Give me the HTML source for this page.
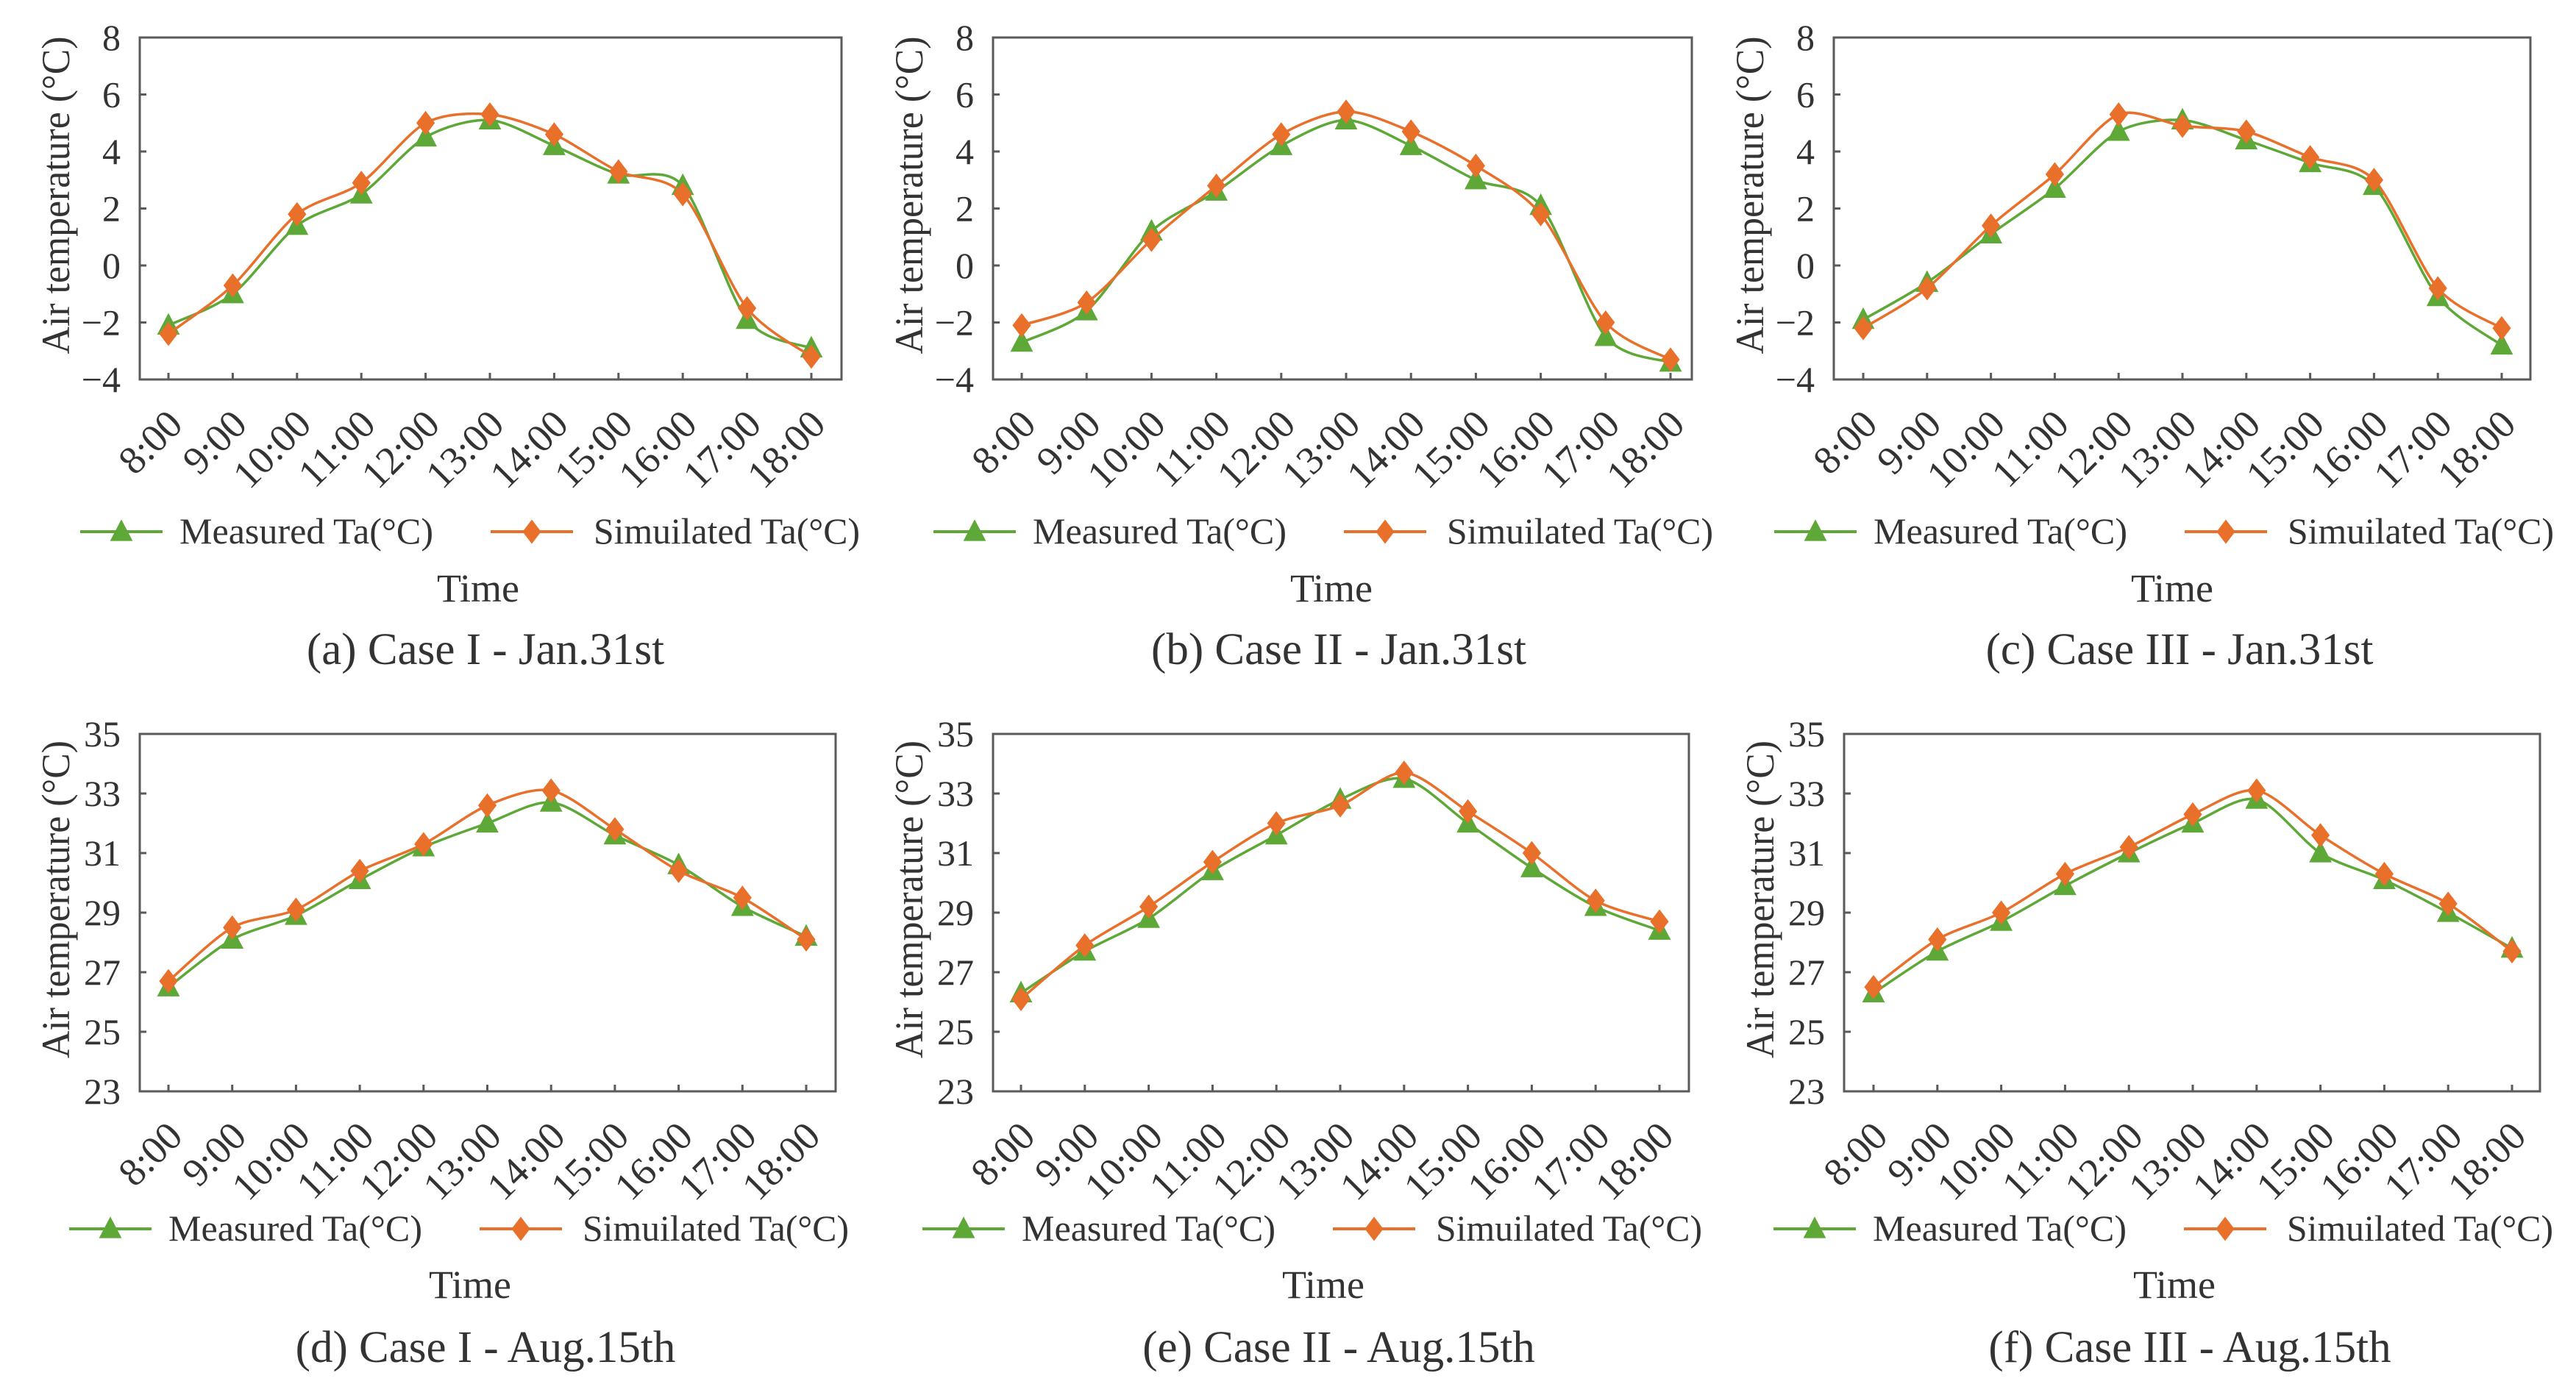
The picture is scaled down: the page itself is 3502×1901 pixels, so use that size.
<!DOCTYPE html>
<html><head><meta charset="utf-8"><title>Air temperature comparison</title>
<style>
html,body{margin:0;padding:0;background:#fff;}
svg{display:block;}
text{font-family:"Liberation Serif",serif;fill:#333;}
</style></head>
<body>
<svg id="fig" width="3502" height="1901" viewBox="0 0 3502 1901" xmlns="http://www.w3.org/2000/svg"></svg>
<script>
// ---- data ----
const categories = ["8:00","9:00","10:00","11:00","12:00","13:00","14:00","15:00","16:00","17:00","18:00"];
const janTicks = [-4,-2,0,2,4,6,8];
const augTicks = [23,25,27,29,31,33,35];
const measuredA = [-2.1,-1.0,1.4,2.5,4.5,5.1,4.2,3.2,2.8,-1.9,-2.9];
const simulatedA = [-2.4,-0.7,1.8,2.9,5.0,5.3,4.6,3.3,2.5,-1.5,-3.2];
const measuredB = [-2.7,-1.6,1.2,2.6,4.2,5.1,4.2,3.0,2.1,-2.5,-3.4];
const simulatedB = [-2.1,-1.3,0.9,2.8,4.6,5.4,4.7,3.5,1.8,-2.0,-3.3];
const measuredC = [-1.9,-0.6,1.1,2.7,4.7,5.1,4.4,3.6,2.8,-1.1,-2.8];
const simulatedC = [-2.2,-0.8,1.4,3.2,5.3,4.9,4.7,3.8,3.0,-0.8,-2.2];
const measuredD = [26.5,28.1,28.9,30.1,31.2,32.0,32.7,31.6,30.6,29.2,28.2];
const simulatedD = [26.7,28.5,29.1,30.4,31.3,32.6,33.1,31.8,30.4,29.5,28.1];
const measuredE = [26.3,27.7,28.8,30.4,31.6,32.8,33.5,32.0,30.5,29.2,28.4];
const simulatedE = [26.1,27.9,29.2,30.7,32.0,32.6,33.7,32.4,31.0,29.4,28.7];
const measuredF = [26.3,27.7,28.7,29.9,31.0,32.0,32.8,31.0,30.1,29.0,27.8];
const simulatedF = [26.5,28.1,29.0,30.3,31.2,32.3,33.1,31.6,30.3,29.3,27.7];
const captions = ["(a) Case I - Jan.31st","(b) Case II - Jan.31st","(c) Case III - Jan.31st","(d) Case I - Aug.15th","(e) Case II -  Aug.15th","(f) Case III - Aug.15th"];

const NS = "http://www.w3.org/2000/svg";
const svg = document.getElementById("fig");
const GREEN = "#5ea838", ORANGE = "#e8702a", AX = "#5a5a5a";

function mk(tag, attrs, parent){
  const e = document.createElementNS(NS, tag);
  for (const k in attrs) e.setAttribute(k, attrs[k]);
  (parent||svg).appendChild(e);
  return e;
}
function smoothPath(pts){
  let d = "M" + pts[0][0] + "," + pts[0][1];
  for (let i=0;i<pts.length-1;i++){
    const p0 = pts[i-1]||pts[i], p1=pts[i], p2=pts[i+1], p3=pts[i+2]||pts[i+1];
    const t = 1/7;
    const c1x = p1[0]+(p2[0]-p0[0])*t, c1y = p1[1]+(p2[1]-p0[1])*t;
    const c2x = p2[0]-(p3[0]-p1[0])*t, c2y = p2[1]-(p3[1]-p1[1])*t;
    d += " C"+c1x+","+c1y+" "+c2x+","+c2y+" "+p2[0]+","+p2[1];
  }
  return d;
}
function triangle(g,x,y,s){ return mk("polygon",{points:(x)+","+(y-s*0.6)+" "+(x-s*0.55)+","+(y+s*0.45)+" "+(x+s*0.55)+","+(y+s*0.45),fill:GREEN},g); }
function diamond(g,x,y,s){ return mk("polygon",{points:x+","+(y-s*0.55)+" "+(x+s*0.42)+","+y+" "+x+","+(y+s*0.55)+" "+(x-s*0.42)+","+y,fill:ORANGE},g); }

const panels = [
  {L:190,R:1144,T:51,B:516,t0:229,t1:1103,ticks:janTicks,m:measuredA,s:simulatedA,cap:captions[0],id:"a"},
  {L:1350,R:2300,T:51,B:516,t0:1389,t1:2271,ticks:janTicks,m:measuredB,s:simulatedB,cap:captions[1],id:"b"},
  {L:2493,R:3440,T:51,B:516,t0:2533,t1:3401,ticks:janTicks,m:measuredC,s:simulatedC,cap:captions[2],id:"c"},
  {L:190,R:1136,T:998,B:1484,t0:229,t1:1096,ticks:augTicks,m:measuredD,s:simulatedD,cap:captions[3],id:"d"},
  {L:1350,R:2296,T:998,B:1484,t0:1388,t1:2256,ticks:augTicks,m:measuredE,s:simulatedE,cap:captions[4],id:"e"},
  {L:2507,R:3453,T:998,B:1484,t0:2547,t1:3415,ticks:augTicks,m:measuredF,s:simulatedF,cap:captions[5],id:"f"}
];

panels.forEach((p,pi)=>{
  const g = mk("g",{});
  
  
  const ymin = p.ticks[0], ymax = p.ticks[p.ticks.length-1];
  const yS = v => p.B - (v-ymin)/(ymax-ymin)*(p.B-p.T);
  const xS = i => p.t0 + i*(p.t1-p.t0)/(categories.length-1);
  const top = pi < 3;

  const box = mk("rect",{x:p.L,y:p.T,width:p.R-p.L,height:p.B-p.T,fill:"none",stroke:AX,"stroke-width":3},g);
  
  

  p.ticks.forEach(v=>{
    const y = yS(v);
    mk("line",{x1:p.L,x2:p.L+9,y1:y,y2:y,stroke:AX,"stroke-width":3},g);
    const t = mk("text",{x:p.L-26,y:y+17,"text-anchor":"end","font-size":50},g);
    t.textContent = v<0 ? "\u2212"+Math.abs(v) : String(v);
    
    
  });
  categories.forEach((c,i)=>{
    const x = xS(i);
    mk("line",{x1:x,x2:x,y1:p.B,y2:p.B-9,stroke:AX,"stroke-width":3},g);
    const t = mk("text",{x:0,y:0,"text-anchor":"end","font-size":54,transform:"translate("+(x+22)+","+(p.B+64)+") rotate(-45)"},g);
    t.textContent = c;
    
    
  });

  const yt = mk("text",{x:0,y:0,"text-anchor":"middle","font-size":54,textLength:432,lengthAdjust:"spacingAndGlyphs",transform:"translate("+(p.L-96)+","+((p.T+p.B)/2-18)+") rotate(-90)"},g);
  yt.textContent = "Air temperature (\u00B0C)";
  
  

  [[p.m,GREEN,"measured"],[p.s,ORANGE,"simulated"]].forEach(([arr,col,nm])=>{
    const pts = arr.map((v,i)=>[xS(i),yS(v)]);
    const path = mk("path",{d:smoothPath(pts),fill:"none",stroke:col,"stroke-width":3.5},g);
    
    
    pts.forEach(pt=>{
      const mkr = nm==="measured" ? triangle(g,pt[0],pt[1],28) : diamond(g,pt[0],pt[1],30);
      
      
    });
  });

  const ly = top ? 723 : 1671;
  const off = top ? 0 : -15;
  const lg = mk("g",{},g);
  
  
  mk("line",{x1:p.L-81+off,x2:p.L+31+off,y1:ly,y2:ly,stroke:GREEN,"stroke-width":4},lg);
  triangle(lg,p.L-25+off,ly,28);
  const l1 = mk("text",{x:p.L+54+off,y:ly+16,"font-size":50,textLength:345,lengthAdjust:"spacingAndGlyphs"},lg);
  l1.textContent = "Measured Ta(\u00B0C)";
  
  
  mk("line",{x1:p.L+477+off,x2:p.L+589+off,y1:ly,y2:ly,stroke:ORANGE,"stroke-width":4},lg);
  diamond(lg,p.L+533+off,ly,30);
  const l2 = mk("text",{x:p.L+617+off,y:ly+16,"font-size":50,textLength:362,lengthAdjust:"spacingAndGlyphs"},lg);
  l2.textContent = "Simuilated Ta(\u00B0C)";
  
  

  const xt = mk("text",{x:p.L+(top?460:449),y:top?818:1765,"text-anchor":"middle","font-size":54},g);
  xt.textContent = "Time";
  
  

  const cp = mk("text",{x:p.L+470,y:top?903:1852,"text-anchor":"middle","font-size":61},g);
  cp.textContent = p.cap;
  
  
});
</script>
</body></html>
